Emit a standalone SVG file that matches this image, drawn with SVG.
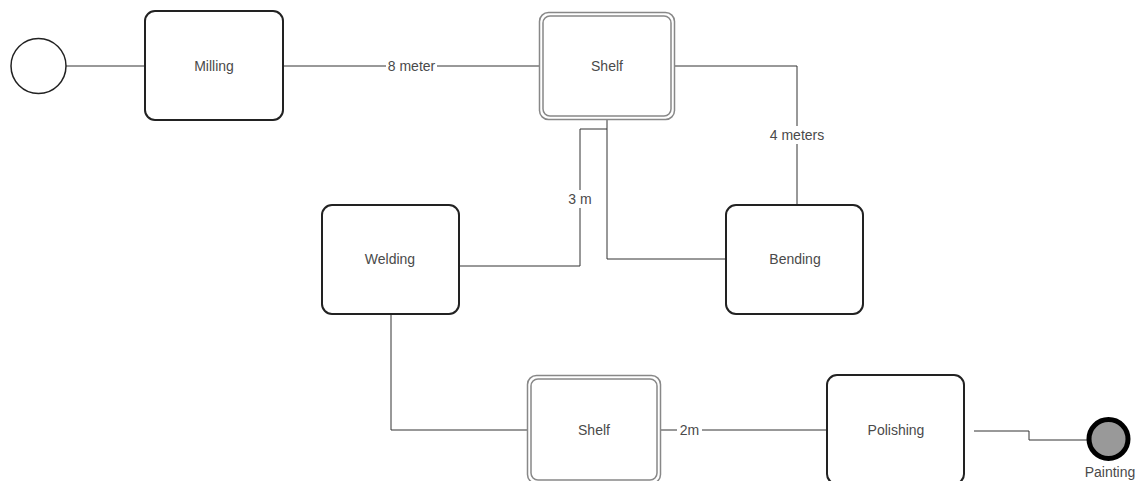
<svg xmlns="http://www.w3.org/2000/svg" width="1141" height="481" viewBox="0 0 1141 481">
<style>
.task{fill:#fff;stroke:#222;stroke-width:2}
.shelfo{fill:#fff;stroke:#888;stroke-width:1.5}
.shelfi{fill:none;stroke:#888;stroke-width:1.5}
.lbl{font-family:"Liberation Sans",Arial,sans-serif;font-size:14px;fill:#4a4a4a;text-anchor:middle}
.edge{fill:none;stroke:#333;stroke-width:1}
.elbl{font-family:"Liberation Sans",Arial,sans-serif;font-size:14px;fill:#4a4a4a;text-anchor:middle}
</style>
<rect width="1141" height="481" fill="#fff"/>
<g id="connectors">
<path class="edge" d="M66,66 H145"/>
<path class="edge" d="M283,66 H540"/>
<path class="edge" d="M674,66 H797 V205"/>
<path class="edge" d="M607,120 V259 H726"/>
<path class="edge" d="M607,129 H580 V266 H459"/>
<path class="edge" d="M391,314 V430 H528"/>
<path class="edge" d="M660,430 H827"/>
<path class="edge" d="M974,431 H1029 V440 H1087"/>
<rect x="386" y="58" width="51" height="16" fill="#fff"/>
<text class="elbl" x="411.5" y="71">8 meter</text>
<rect x="766" y="126" width="62" height="18" fill="#fff"/>
<text class="elbl" x="797" y="140">4 meters</text>
<rect x="566" y="190" width="28" height="18" fill="#fff"/>
<text class="elbl" x="580" y="204">3 m</text>
<rect x="677" y="422" width="25" height="16" fill="#fff"/>
<text class="elbl" x="689.5" y="435">2m</text>
</g>
<g id="start">
<circle cx="38.5" cy="66" r="27.5" fill="#fff" stroke="#222" stroke-width="1.5"/>
</g>
<g id="milling">
<rect class="task" x="145" y="11" width="138" height="109" rx="10"/>
<text class="lbl" x="214" y="71">Milling</text>
</g>
<g id="shelf1">
<rect class="shelfo" x="539.5" y="12.5" width="135" height="107" rx="9"/>
<rect class="shelfi" x="543" y="16" width="128" height="100" rx="7"/>
<text class="lbl" x="607" y="71">Shelf</text>
</g>
<g id="welding">
<rect class="task" x="322" y="205" width="137" height="109" rx="10"/>
<text class="lbl" x="390" y="264">Welding</text>
</g>
<g id="bending">
<rect class="task" x="726" y="205" width="137" height="109" rx="10"/>
<text class="lbl" x="795" y="264">Bending</text>
</g>
<g id="shelf2">
<rect class="shelfo" x="527.5" y="375.5" width="133" height="108" rx="9"/>
<rect class="shelfi" x="531" y="379" width="126" height="101" rx="7"/>
<text class="lbl" x="594" y="435">Shelf</text>
</g>
<g id="polishing">
<rect class="task" x="827" y="375" width="137" height="109" rx="10"/>
<text class="lbl" x="896" y="435">Polishing</text>
</g>
<g id="painting">
<circle cx="1108.5" cy="439" r="19.5" fill="#999" stroke="#000" stroke-width="5"/>
<text class="lbl" x="1110" y="477">Painting</text>
</g>
</svg>
